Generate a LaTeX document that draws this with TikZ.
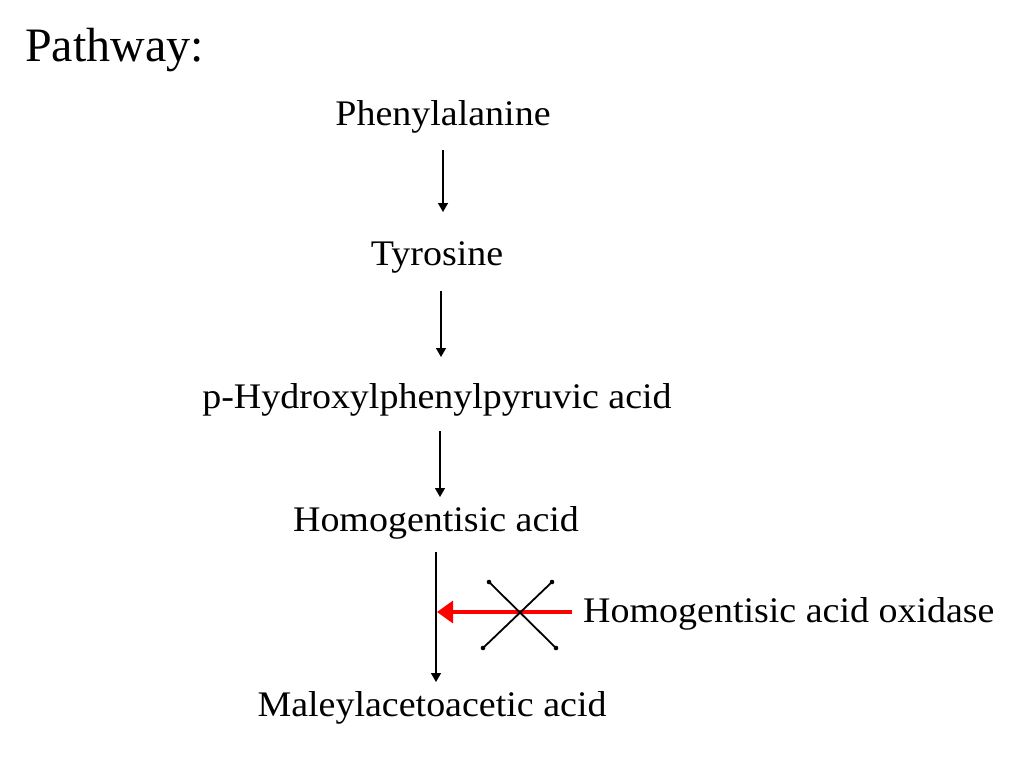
\documentclass[tikz,border=0pt]{standalone}
\usepackage{fontspec}
\setmainfont{Liberation Serif}
\newfontfamily\widefont{Liberation Serif}[FakeStretch=1.055]
\usetikzlibrary{arrows.meta}
\begin{document}
\begin{tikzpicture}[x=1pt,y=-1pt,
  lbl/.style={inner sep=0pt,font=\widefont\fontsize{36}{40}\selectfont},
  flow/.style={line width=1.4pt,-{Triangle[length=9pt,width=10pt]}},
  cross/.style={line width=1.8pt,line cap=round}]
\useasboundingbox (0,0) rectangle (1024,768);
\node[inner sep=0pt,anchor=west,font=\fontsize{48}{52}\selectfont] (title) at (25,50) {Pathway:};
\node[lbl] (phe) at (443,117) {Phenylalanine};
\node[lbl] (tyr) at (437,257) {Tyrosine};
\node[lbl] (hpp) at (437,400) {p-Hydroxylphenylpyruvic acid};
\node[lbl] (hga) at (436,523) {Homogentisic acid};
\node[lbl] (maa) at (432,708) {Maleylacetoacetic acid};
\node[lbl,anchor=west] (enz) at (583,614) {Homogentisic acid oxidase};
\coordinate (a1s) at (443,150); \coordinate (a1e) at (443,212);
\coordinate (a2s) at (441,291); \coordinate (a2e) at (441,357);
\coordinate (a3s) at (440,431); \coordinate (a3e) at (440,497);
\coordinate (a4s) at (436,552); \coordinate (a4e) at (436,682);
\draw[flow] (a1s) -- (a1e);
\draw[flow] (a2s) -- (a2e);
\draw[flow] (a3s) -- (a3e);
\draw[flow] (a4s) -- (a4e);
\coordinate (rs) at (572,612); \coordinate (re) at (437,612);
\draw[red,line width=3.5pt,-{Triangle[length=16pt,width=22pt]}] (rs) -- (re);
\coordinate (c1) at (489,582); \coordinate (c2) at (556,648);
\coordinate (c3) at (552,582); \coordinate (c4) at (483,648);
\draw[cross] (c1) -- (c2);
\draw[cross] (c3) -- (c4);
\foreach \p in {c1,c2,c3,c4} \fill (\p) circle (2.3pt);
\end{tikzpicture}
\end{document}
